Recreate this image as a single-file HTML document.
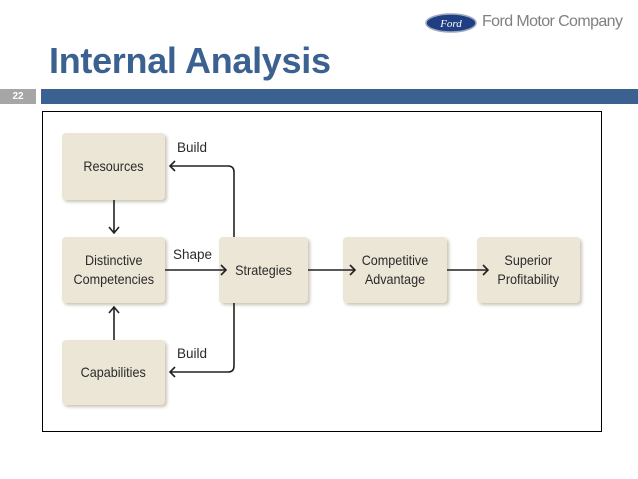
<!DOCTYPE html>
<html><head><style>
body{margin:0;width:638px;height:479px;background:#fff;position:relative;overflow:hidden;font-family:"Liberation Sans",sans-serif}
.b{position:absolute;background:#ece6d6;border-radius:4px;box-shadow:2px 2px 3px #c9c4b6;display:flex;align-items:center;justify-content:center;text-align:center;font-size:14px;color:#2a2a2a;line-height:19px}
.b span{display:inline-block;transform:scaleX(0.9)}
.l{position:absolute;font-size:13.5px;color:#2a2a2a}
</style></head><body>
<svg style="position:absolute;left:425px;top:13px" width="52" height="20"><ellipse cx="26" cy="10" rx="25" ry="9" fill="#1f3f82" stroke="#a0a8c0" stroke-width="1.5"/><text x="26" y="14" font-size="11" font-style="italic" fill="#fff" text-anchor="middle" font-family="Liberation Serif">Ford</text></svg>
<div style="position:absolute;left:482px;top:13px;font-size:16px;color:#808080;letter-spacing:-0.6px">Ford Motor Company</div>
<div style="position:absolute;left:49px;top:40px;font-size:36px;font-weight:bold;color:#3a6190;letter-spacing:-0.3px">Internal Analysis</div>
<div style="position:absolute;left:0;top:89px;width:36px;height:15px;background:#a6a6a6;color:#fff;font-size:10px;font-weight:bold;text-align:center;line-height:15px">22</div>
<div style="position:absolute;left:41px;top:89px;width:597px;height:15px;background:#3a6190"></div>
<div style="position:absolute;left:42px;top:111px;width:558px;height:319px;border:1px solid #000"></div>
<div class="b" style="left:62px;top:133px;width:103px;height:67px"><span>Resources</span></div>
<div class="b" style="left:62px;top:237px;width:103px;height:66px"><span>Distinctive<br>Competencies</span></div>
<div class="b" style="left:62px;top:340px;width:103px;height:65px"><span>Capabilities</span></div>
<div class="b" style="left:219px;top:237px;width:89px;height:66px"><span>Strategies</span></div>
<div class="b" style="left:343px;top:237px;width:104px;height:66px"><span>Competitive<br>Advantage</span></div>
<div class="b" style="left:477px;top:237px;width:103px;height:66px"><span>Superior<br>Profitability</span></div>
<svg style="position:absolute;left:0;top:0" width="638" height="479" fill="none" stroke="#222" stroke-width="1.6">
<path d="M114 200V232M109 227l5 6 5-6"/>
<path d="M114 340V308M109 313l5-6 5 6"/>
<path d="M165 270H226M221 265l5 5-5 5"/>
<path d="M308 270H355M350 265l5 5-5 5"/>
<path d="M447 270H488M483 265l5 5-5 5"/>
<path d="M234 237V172q0-6-6-6H170M175 161l-5 5 5 5"/>
<path d="M234 303V366q0 6-6 6H170M175 367l-5 5 5 5"/>
</svg>
<div class="l" style="left:177px;top:140px">Build</div>
<div class="l" style="left:173px;top:247px">Shape</div>
<div class="l" style="left:177px;top:346px">Build</div>
</body></html>
